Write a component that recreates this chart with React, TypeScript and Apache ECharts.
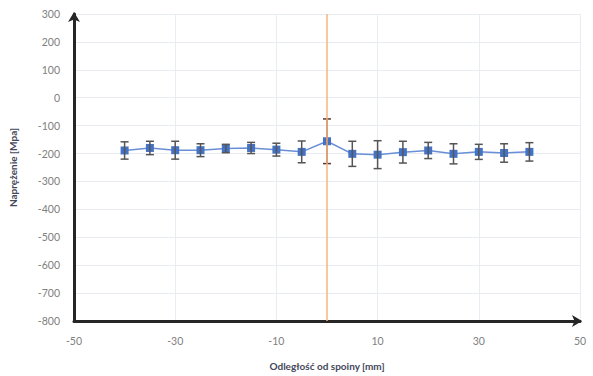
import React, { useEffect, useRef } from "react";
import * as echarts from "echarts";

const xValues = [-40, -35, -30, -25, -20, -15, -10, -5, 0, 5, 10, 15, 20, 25, 30, 35, 40];
const stressValues = [-189, -180, -188, -188, -182, -180, -186, -194, -156, -201, -204, -195, -189, -201, -194, -198, -194];
const errorValues = [31, 24, 32, 23, 15, 20, 23, 39, 80, 45, 50, 39, 29, 36, 27, 33, 33];
const weldPosition = 0;
const xTitle = "Odległość od spoiny [mm]";
const yTitle = "Naprężenie [Mpa]";

export default function App() {
  const ref = useRef<HTMLDivElement>(null);
  useEffect(() => {
    if (!ref.current) return;
    const chart = echarts.init(ref.current, null, { renderer: "svg" });
    const points = xValues.map((x, i) => [x, stressValues[i]]);
    const errData = xValues.map((x, i) => [x, stressValues[i] - errorValues[i], stressValues[i] + errorValues[i]]);
    const font = "Lato, 'Open Sans', sans-serif";
    chart.setOption({
      animation: false,
      backgroundColor: "#ffffff",
      grid: { left: 74, right: 13, top: 14, bottom: 53, containLabel: false },
      xAxis: {
        type: "value",
        min: -50,
        max: 50,
        interval: 20,
        name: xTitle,
        nameLocation: "middle",
        nameGap: 40,
        nameTextStyle: { color: "#44475a", fontSize: 10, fontWeight: "bold", fontFamily: font },
        axisLine: { show: true, onZero: false, lineStyle: { color: "#262626", width: 3 }, symbol: ["none", "arrow"], symbolSize: [9, 10], symbolOffset: [0, 2] },
        axisTick: { show: false },
        axisLabel: { color: "#808080", fontSize: 10.5, margin: 14, fontFamily: font },
        splitLine: { show: true, lineStyle: { color: "#e9ecf3", width: 1 } },
      },
      yAxis: {
        type: "value",
        min: -800,
        max: 300,
        interval: 100,
        name: yTitle,
        nameLocation: "middle",
        nameGap: 56,
        nameTextStyle: { color: "#44475a", fontSize: 10, fontWeight: "bold", fontFamily: font },
        axisLine: { show: true, onZero: false, lineStyle: { color: "#262626", width: 3 }, symbol: ["none", "arrow"], symbolSize: [9, 10], symbolOffset: [0, 2] },
        axisTick: { show: false },
        axisLabel: { color: "#808080", fontSize: 10.5, margin: 14, fontFamily: font },
        splitLine: { show: true, lineStyle: { color: "#e9ecf3", width: 1 } },
      },
      series: [
        {
          type: "line",
          data: [],
          silent: true,
          markLine: {
            symbol: "none",
            silent: true,
            label: { show: false },
            emphasis: { disabled: true },
            lineStyle: { color: "#f7b47c", width: 1.5, type: "solid", opacity: 1 },
            data: [{ xAxis: weldPosition }],
          },
          z: 1,
        },
        {
          type: "line",
          data: points,
          symbol: "rect",
          symbolSize: 8,
          itemStyle: { color: "#4472c4" },
          lineStyle: { color: "#6a8fd4", width: 1.5 },
          z: 2,
        },
        {
          type: "custom",
          data: errData,
          z: 3,
          renderItem: (params: any, api: any) => {
            const x = api.value(0);
            const lo = api.coord([x, api.value(1)]);
            const hi = api.coord([x, api.value(2)]);
            const half = 4;
            const color = x === weldPosition ? "#5c3a30" : "#555555";
            const style = { stroke: color, lineWidth: 1.5 };
            return {
              type: "group",
              children: [
                { type: "line", shape: { x1: lo[0], y1: lo[1], x2: hi[0], y2: hi[1] }, style },
                { type: "line", shape: { x1: lo[0] - half, y1: lo[1], x2: lo[0] + half, y2: lo[1] }, style },
                { type: "line", shape: { x1: hi[0] - half, y1: hi[1], x2: hi[0] + half, y2: hi[1] }, style },
              ],
            };
          },
        },
      ],
    });
    return () => chart.dispose();
  }, []);
  return <div ref={ref} style={{ width: 593, height: 376, position: "absolute", left: 0, top: 0 }} />;
}
